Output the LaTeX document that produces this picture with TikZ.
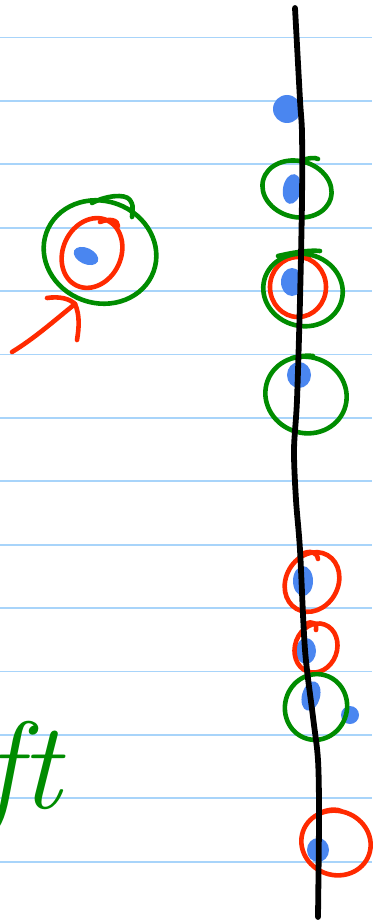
\documentclass[tikz,border=0pt]{standalone}
\usetikzlibrary{calc}
\definecolor{paperline}{RGB}{168,212,250}
\definecolor{inkgreen}{RGB}{0,140,0}
\definecolor{inkred}{RGB}{255,42,0}
\definecolor{inkblue}{RGB}{74,134,240}
\begin{document}
\begin{tikzpicture}[x=1pt, y=-1pt,
    ruling/.style={draw=paperline, line width=1.8pt},
    blackink/.style={draw=black, line width=5.8pt, line cap=round, line join=round},
    greenink/.style={draw=inkgreen, line width=4.6pt, line cap=round, line join=round},
    redink/.style={draw=inkred, line width=4.6pt, line cap=round, line join=round},
    blob/.style={fill=inkblue},
    handtext/.style={text=inkgreen, inner sep=0pt, font=\fontsize{124}{124}\selectfont\itshape}
]
    \useasboundingbox[fill=white] (0,0) rectangle (372,923);

    % ruled paper
    \foreach \k in {0,...,13}
        \draw[ruling] (0,{37.5+63.4*\k}) -- (372,{37.5+63.4*\k});

    % left sketch
    \fill[blob, rotate around={-25:(86,256)}] (86,256) ellipse (13 and 8);
    \draw[redink, rotate around={-25:(92,253)}] (92,253) ellipse (29 and 36);
    \draw[redink] (100,222) .. controls (110,218) and (118,220) .. (118,226);
    \draw[greenink, rotate around={-20:(100,252)}] (100,252) ellipse (57 and 51);
    \draw[greenink] (92,203) .. controls (105,196) and (125,193) .. (130,200) .. controls (133,205) .. (132,217);
    \coordinate (arrowtail) at (12,352);
    \coordinate (arrowtip) at (75,304);
    \draw[redink] (arrowtail) .. controls (35,338) and (55,320) .. (arrowtip);
    \draw[redink] (47,298) .. controls (60,296) and (70,299) .. (arrowtip);
    \draw[redink] (arrowtip) .. controls (80,315) and (79,328) .. (77,340);

    % handwriting
    \node[handtext, anchor=base east] (ft) at (61,808) {ft};

    % blue dots on the line
    \fill[blob] (287,109) ellipse (14 and 14);
    \fill[blob, rotate around={-10:(292,189)}] (292,189) ellipse (9 and 15);
    \fill[blob] (292,282) ellipse (11 and 14);
    \fill[blob] (299,375) ellipse (12 and 13);
    \fill[blob] (303,581) ellipse (10 and 15);
    \fill[blob] (306,651) ellipse (10 and 13);
    \fill[blob, rotate around={-15:(311,696)}] (311,696) ellipse (9 and 15);
    \fill[blob] (350,715) ellipse (9 and 9);
    \fill[blob] (318,850) ellipse (11 and 12);

    % loops round the dots
    \draw[greenink, rotate around={-15:(297,189)}] (297,189) ellipse (35 and 28);
    \draw[greenink] (300,161) .. controls (308,158) and (315,157) .. (318,159);
    \draw[redink] (298,287) ellipse (28 and 30);
    \draw[redink] (290,258) .. controls (298,255) and (305,255) .. (309,257);
    \draw[greenink, rotate around={-15:(303,290)}] (303,290) ellipse (40 and 36);
    \draw[greenink] (278,256) .. controls (295,252) and (310,250) .. (320,251);
    \draw[greenink, rotate around={-20:(306,395)}] (306,395) ellipse (41 and 38);
    \draw[greenink] (292,358) .. controls (300,356) and (308,355) .. (313,356);
    \draw[redink, rotate around={-30:(312,582)}] (312,582) ellipse (26 and 31);
    \draw[redink] (302,554) .. controls (310,550) and (317,552) .. (318,559);
    \draw[redink, rotate around={-20:(316,648)}] (316,648) ellipse (21 and 25);
    \draw[redink] (306,624) .. controls (312,620) and (318,624) .. (316,630);
    \draw[greenink, rotate around={-15:(316,707)}] (316,707) ellipse (31 and 33);
    \draw[redink, rotate around={-20:(336,843)}] (336,843) ellipse (35 and 32);
    \draw[redink] (322,812) .. controls (330,809) and (337,809) .. (341,811);

    % the long line
    \draw[blackink] plot[smooth] coordinates {(295,8) (300,100) (302,133) (302,200) (300,300) (297,400) (294,450) (296,500) (300,550) (305,650) (313,717) (318,760) (319,817) (318,917)};
\end{tikzpicture}
\end{document}
